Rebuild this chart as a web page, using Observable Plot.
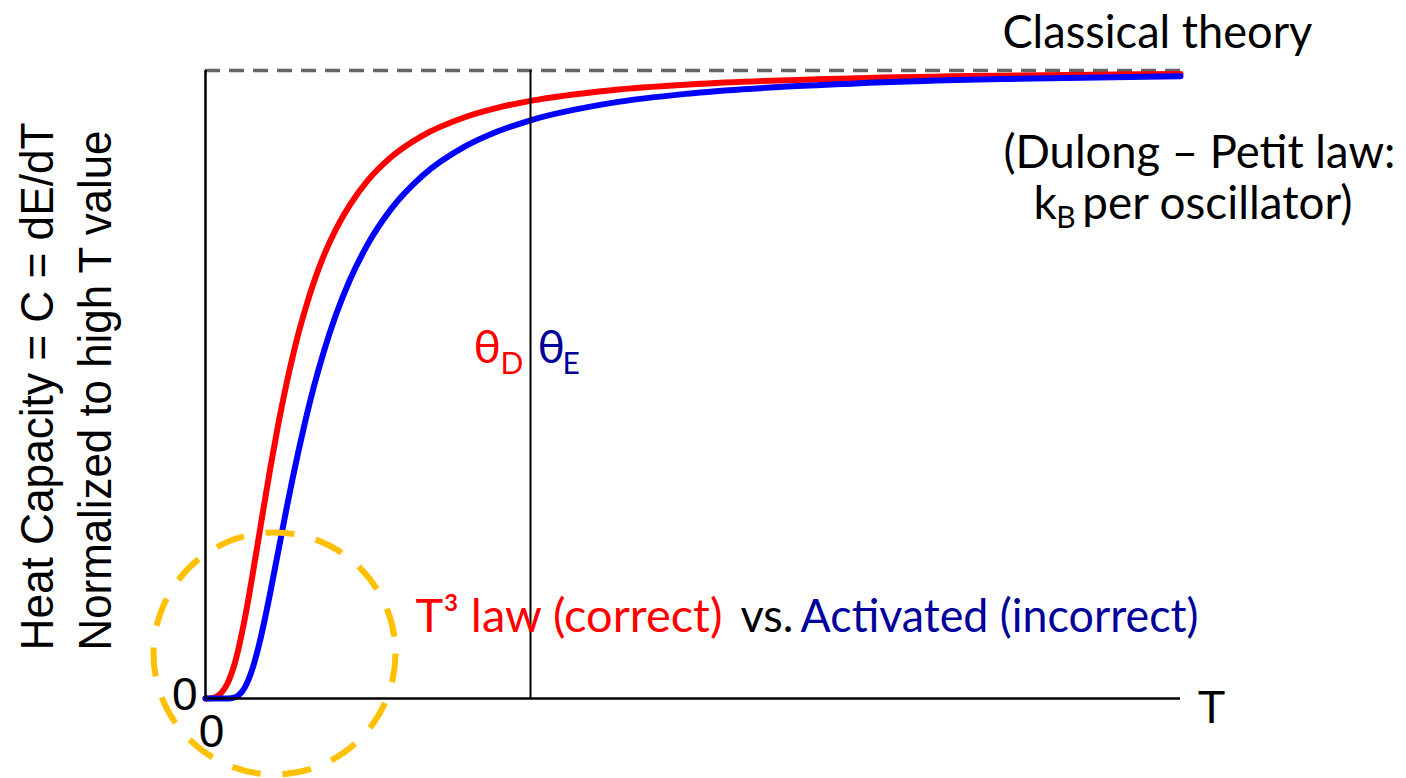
<!DOCTYPE html>
<html>
<head>
<meta charset="utf-8">
<script src="https://cdn.jsdelivr.net/npm/d3@7"></script>
<script src="https://cdn.jsdelivr.net/npm/@observablehq/plot@0.6"></script>
<style>
  html, body { margin: 0; padding: 0; background: #fff; }
  svg { display: block; }
</style>
</head>
<body>
<div id="chart"></div>
<script>
// Temperature in units of theta (theta_D = theta_E = 1)
const temps = [0, 0.01, 0.02, 0.03, 0.04, 0.05, 0.0667, 0.0769, 0.0833, 0.0909, 0.1, 0.1111, 0.125, 0.1429, 0.1667, 0.1818, 0.2, 0.2222, 0.25, 0.2667, 0.2857, 0.3077, 0.3333, 0.3636, 0.4, 0.4444, 0.5, 0.5714, 0.6667, 0.8, 0.9, 1, 1.25, 1.5, 2, 2.5, 3];
// Debye (T^3 law, red) heat capacity normalized to high-T value
const debyeC = [0, 0.00008, 0.00062, 0.0021, 0.00499, 0.00974, 0.0231, 0.0352, 0.0447, 0.0575, 0.0758, 0.102, 0.1382, 0.1909, 0.2656, 0.313, 0.3686, 0.432, 0.5031, 0.541, 0.5807, 0.621, 0.6628, 0.705, 0.7459, 0.786, 0.8254, 0.8623, 0.896, 0.926, 0.9409, 0.9517, 0.9687, 0.9781, 0.9876, 0.992, 0.9945];
// Einstein (activated, blue) heat capacity normalized to high-T value
const einsteinC = [0, 0, 0, 0, 0, 0, 0.00007, 0.00038, 0.00089, 0.00202, 0.00454, 0.01, 0.02148, 0.04476, 0.0897, 0.1246, 0.1707, 0.23, 0.3041, 0.3468, 0.3933, 0.4433, 0.4963, 0.5517, 0.6089, 0.6667, 0.7241, 0.7796, 0.8319, 0.8794, 0.9032, 0.9207, 0.9484, 0.9639, 0.9794, 0.9868, 0.9908];
const thetaT = [1];          // theta_D / theta_E marker
const classicalC = [1];      // Dulong-Petit high-T value
const circleCenter = [{T: 0.2123, C: 0.0717}];  // low-T highlight
const zeroTicks = [0];

const debyeRows = temps.map((t, i) => ({T: t, C: debyeC[i]}));
const einsteinRows = temps.map((t, i) => ({T: t, C: einsteinC[i]}));

const SERIF = "Lato, 'Open Sans', 'DejaVu Sans', sans-serif";
const ARIAL = "'Liberation Sans', Arial, sans-serif";
const RED = "#ff0000", BLUE = "#0000ff", DARKBLUE = "#00009a";

const txt = (s, o) => Plot.text([s], {text: d => d, fontFamily: SERIF, fontSize: 46, lineAnchor: "bottom", textAnchor: "start", ...o});

const plot = Plot.plot({
  width: 1406,
  height: 778,
  marginLeft: 205,
  marginRight: 226,
  marginTop: 70,
  marginBottom: 80,
  style: {background: "#fff", overflow: "visible"},
  x: {domain: [0, 3], axis: null},
  y: {domain: [0, 1], axis: null},
  marks: [
    Plot.ruleY(classicalC, {x1: 0, x2: 3, stroke: "#666", strokeWidth: 3.5, strokeDasharray: "15,9"}),
    Plot.line(debyeRows, {x: "T", y: "C", stroke: RED, strokeWidth: 6, curve: "monotone-x"}),
    Plot.line(einsteinRows, {x: "T", y: "C", stroke: BLUE, strokeWidth: 6, curve: "monotone-x"}),
    Plot.ruleX(zeroTicks, {y1: 0, y2: 1, stroke: "#000", strokeWidth: 2.5}),
    Plot.ruleY(zeroTicks, {x1: 0, x2: 3, stroke: "#000", strokeWidth: 2.5}),
    Plot.ruleX(thetaT, {y1: 0, y2: 1, stroke: "#000", strokeWidth: 2}),
    Plot.dot(circleCenter, {x: "T", y: "C", r: 121, fill: "none", stroke: "#ffc000", strokeWidth: 6, strokeDasharray: "29,22"}),
    Plot.axisX(zeroTicks, {tickSize: 0, tickPadding: 16, dx: 6, fontSize: 46, fontFamily: ARIAL, fill: "#000", label: null, tickFormat: d3.format("d")}),
    Plot.axisY(zeroTicks, {tickSize: 0, tickPadding: 8, dy: -3, fontSize: 46, fontFamily: ARIAL, fill: "#000", label: null, tickFormat: d3.format("d")}),
    // axis title T
    Plot.text(["T"], {x: 3.052, y: -0.0398, text: d => d, fontFamily: ARIAL, fontSize: 46, lineAnchor: "bottom", textAnchor: "start"}),
    // y-axis title (two rotated lines)
    Plot.text(["Heat Capacity = C = dE/dT"], {x: -0.468, y: 0.0764, text: d => d, rotate: -90, fontFamily: ARIAL, fontSize: 46, lineAnchor: "bottom", textAnchor: "start"}),
    Plot.text(["Normalized to high T value"], {x: -0.292, y: 0.0764, text: d => d, rotate: -90, fontFamily: ARIAL, fontSize: 46, lineAnchor: "bottom", textAnchor: "start"}),
    // classical theory annotation
    txt("Classical theory", {x: 2.452, y: 1.0366}),
    txt("(Dulong – Petit law:", {x: 2.455, y: 0.8455}),
    txt("k", {x: 2.548, y: 0.7643}),
    txt("B", {x: 2.618, y: 0.75, fontSize: 30}),
    txt("per oscillator)", {x: 2.698, y: 0.7643}),
    // theta labels
    txt("θ", {x: 0.8246, y: 0.535, fill: RED}),
    txt("D", {x: 0.9077, y: 0.5175, fill: RED, fontSize: 30}),
    txt("θ", {x: 1.0215, y: 0.535, fill: DARKBLUE}),
    txt("E", {x: 1.0985, y: 0.5175, fill: DARKBLUE, fontSize: 30}),
    // law comparison
    txt("T³ law (correct)", {x: 0.646, y: 0.1051, fill: RED}),
    txt("vs.", {x: 1.646, y: 0.1051, fill: "#000"}),
    txt("Activated (incorrect)", {x: 1.831, y: 0.1051, fill: DARKBLUE})
  ]
});

const fit = new Map([
  ["Classical theory", 310],
  ["(Dulong – Petit law:", 392],
  ["per oscillator)", 270],
  ["T³ law (correct)", 307],
  ["vs.", 53],
  ["Activated (incorrect)", 398],
  ["Heat Capacity = C = dE/dT", 528],
  ["Normalized to high T value", 520]
]);
d3.select(plot).selectAll("text").each(function() {
  const w = fit.get(this.textContent);
  if (w) {
    this.setAttribute("textLength", w);
    this.setAttribute("lengthAdjust", "spacingAndGlyphs");
  }
});

document.getElementById("chart").appendChild(plot);
</script>
</body>
</html>
